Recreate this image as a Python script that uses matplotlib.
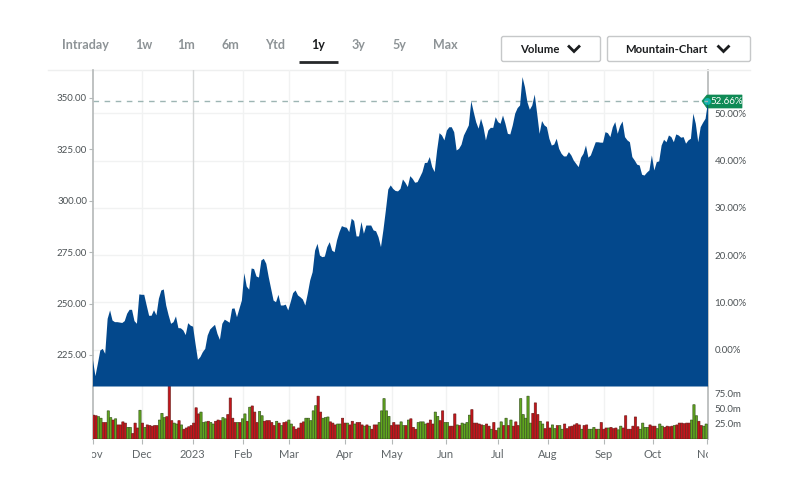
import matplotlib
matplotlib.use('Agg')
import matplotlib.pyplot as plt
import numpy as np
from matplotlib.patches import FancyBboxPatch, Polygon
from matplotlib.transforms import Bbox

plt.rcParams['font.family'] = ['Lato', 'DejaVu Sans']

# 日足の終値 (1y)
price = [
    222.6, 214.9, 221, 227.4, 228.2, 225.8, 242.8, 246.9, 242, 241.2,
    241.2, 241, 240.8, 241.7, 245.3, 247.2, 247.2, 241.7, 240.4, 254.7,
    254.5, 254.5, 249.3, 244.3, 244.3, 247, 244.5, 252.6, 256.6, 257.1,
    249.3, 244.5, 240.4, 241.2, 244, 238.3, 238.2, 237.2, 234.9, 240.7,
    239.5, 239, 230.7, 222.9, 224.2, 226.6, 228.2, 234.7, 237.6, 238.8,
    239.9, 235.5, 232.6, 240.4, 242.4, 241.7, 240.9, 247.7, 247.9, 243.6,
    247.7, 251.7, 265, 258.5, 257, 267.3, 267, 263.4, 262.9, 271.2,
    272, 269.6, 263.1, 257.4, 251.7, 250.9, 254.5, 249.3, 249.3, 249.7,
    246.9, 250.9, 255.3, 256.6, 254.2, 253.3, 252.2, 249.3, 255, 261.5,
    265.5, 276, 279.3, 273.6, 272.8, 273.1, 277.7, 280.1, 276, 275.2,
    281, 285, 287.9, 287.4, 287.1, 285, 291.5, 290.4, 282.9, 282.9,
    289.9, 284.2, 288.2, 288.2, 288.2, 285.8, 285.4, 282.5, 277.7, 286,
    295.5, 305.7, 307.7, 306, 305, 304.8, 306, 310.6, 309, 306.9,
    312.2, 310.9, 309, 309.3, 311.7, 314.2, 318.6, 318.7, 321.5, 316.6,
    314.2, 324.7, 333.1, 332, 329.6, 334.4, 336, 336, 333.6, 324.7,
    325.5, 327.5, 332, 334.4, 336.9, 348.7, 343.4, 338.5, 335.3, 340.1,
    336, 329.6, 334.4, 335.7, 335.7, 340.9, 338.5, 337.7, 341.7, 337.7,
    332.8, 332.5, 336.9, 342.6, 345.3, 346.6, 360.4, 355.5, 348.2, 344.5,
    346.6, 351.9, 342.6, 332.8, 339, 336.9, 336, 330.4, 327.1, 327.6,
    330.4, 325.5, 323.1, 321.8, 321.8, 323.9, 322.3, 319.8, 318.2, 316.6,
    321.2, 323.1, 327.1, 321.2, 322.3, 325.5, 328.7, 328.7, 328.5, 328.5,
    333.6, 333.1, 331.2, 336, 338.5, 332.8, 336.6, 338.8, 331.2, 329.6,
    328.7, 321.5, 319.8, 317.8, 317.4, 312.9, 312.5, 313.9, 315, 322.3,
    315, 319, 319.4, 327.1, 329.9, 328.7, 332, 331.2, 328.7, 332.5,
    332, 330.9, 331.2, 328, 329.6, 330.4, 342.6, 337.7, 328.7, 336,
    338.2, 340.1, 348.2,
]

# 出来高 (百万株)
volume = [
    39, 38, 36.5, 34, 27, 27, 46, 35, 31, 33,
    23, 23, 28, 26, 19, 19, 9, 26, 18, 47,
    26, 19, 23, 22, 21, 22, 22, 31, 42, 35,
    36.5, 87, 30, 26, 24.5, 30, 23, 16, 18, 20,
    22, 26, 51, 41, 44, 27, 28, 29, 27, 24.5,
    29, 31, 30, 35, 33, 40, 67, 34, 27, 27,
    27, 33, 41, 29, 52, 54, 44, 27, 45, 38,
    29, 30, 30, 27, 22, 29, 26, 22, 27, 28,
    31, 24.5, 20, 16, 18, 26, 28, 34, 34, 30,
    46, 54.5, 70, 44, 34, 35, 36, 28, 26, 23,
    24.5, 24.5, 34, 26, 26, 23, 29, 24.5, 27, 27,
    23, 21, 23, 21, 16, 23, 23, 27, 46, 66,
    46, 37, 22, 27, 23, 23, 28, 22, 22, 31,
    33, 19, 16, 27, 28, 28, 24.5, 26, 31, 24.5,
    44, 37, 30, 46, 27, 27, 21, 21, 41, 23,
    22, 26, 24.5, 27, 39, 48, 26, 26, 24.5, 23,
    22, 24.5, 21, 16, 27, 14, 18, 28, 22, 34,
    22, 31, 21, 28, 22, 66, 40, 34, 70, 26,
    42, 59, 40, 29, 24.5, 17, 28, 18, 23, 17,
    22, 22, 16, 24.5, 17, 20, 21, 23, 25, 23,
    16, 22, 23, 16, 16, 19, 16, 16, 27, 16,
    18, 18, 19, 17, 18, 15, 21, 18, 38, 16,
    16, 21, 36, 20, 16, 26, 19, 19, 23, 21,
    21, 17, 24.5, 21, 19, 21, 20, 21, 22, 23,
    26, 26, 25, 26, 26, 31, 56, 38, 29, 22,
    21, 24.5,
]

# 前日比 r: 下落 / g: 上昇
volume_dir = (
    'rrggrrggrg' 'rrrrggrrrg' 'rgrrrrrggg' 'rrrggrgrrr' 'rrrrgggrgg'
    'rrrggrrrrg' 'rggrgrrrgg' 'rrrrrgrgrr' 'ggrrrrrggg' 'ggrrgggrrr'
    'ggrrgrrgrr' 'rgrgrrrggg' 'ggrrrrggrg' 'rrrggggrrr' 'ggrrggrrrg'
    'rggggrrrrr' 'grrgrrggrg' 'rgrrrggggg' 'rrrggrrrgg' 'rggrrrrrrr'
    'grrgggrgrr' 'rgrrrggrrr' 'rrrrggggrr' 'rgggrrrrgr' 'rrrrrgggrr'
    'gg'
)

price_ticks = [225, 250, 275, 300, 325, 350]
percent_ticks = [0, 10, 20, 30, 40, 50]
volume_ticks = [25, 50, 75]
month_labels = ['Nov', 'Dec', '2023', 'Feb', 'Mar', 'Apr', 'May', 'Jun', 'Jul', 'Aug', 'Sep', 'Oct', 'Nov']
month_pos = [0, 20.3, 41, 61.7, 80.6, 103.4, 122.6, 144.8, 166, 186.6, 209.6, 229.6, 252]
range_tabs = ['Intraday', '1w', '1m', '6m', 'Ytd', '1y', '3y', '5y', 'Max']
last_price = 348.5
last_change = '52.66%'

W, H = 800, 484
LEFT, RIGHT = 92.5, 707.5
TOP, MID, BOTTOM = 70, 386, 439
AREA = '#03488c'
GRID = '#f1f2f2'
AXIS = '#b4b8b8'
TEXT = '#4d5356'


def px_axes(fig, left, top, right, bottom):
    return fig.add_axes([left / W, 1 - bottom / H, (right - left) / W, (bottom - top) / H])


fig = plt.figure(figsize=(W / 100, H / 100), dpi=100)

# 価格パネル
ax = px_axes(fig, LEFT, TOP, RIGHT, MID)
ax.set_xlim(0, 252)
ax.set_ylim(209.9, 363.6)
for pos in month_pos[1:-1]:
    ax.axvline(pos, color='#d5d7d7' if pos == 41 else GRID, lw=1, zorder=1)
ax.axhline(last_price, color='#9db5b3', lw=1, dashes=(4, 4), zorder=2)
ax.fill_between(np.arange(len(price)), price, 209.9, color=AREA, lw=0, zorder=3)
ax.set_yticks(price_ticks, [f'{v:.2f}' for v in price_ticks])
ax.set_xticks([])
ax.tick_params(axis='y', length=3, width=0.8, color=AXIS, labelsize=7, labelcolor=TEXT, pad=1)
for side in ['top', 'right', 'bottom']:
    ax.spines[side].set_visible(False)
ax.spines['left'].set_color(AXIS)
ax.spines['left'].set_linewidth(1.2)

# 騰落率の右軸
ax_pct = ax.twinx()
ax_pct.set_ylim(-7.73, 59.2)
ax_pct.set_yticks(percent_ticks, [f'{v:.2f}%' for v in percent_ticks])
ax_pct.tick_params(axis='y', length=0, labelsize=7, labelcolor=TEXT, pad=5)
ax_pct.grid(axis='y', color=GRID, lw=1)
ax_pct.set_axisbelow(True)
ax_pct.patch.set_visible(False)
ax.set_zorder(ax_pct.get_zorder() + 1)
ax.patch.set_visible(False)
for side in ['top', 'left', 'bottom']:
    ax_pct.spines[side].set_visible(False)
ax_pct.spines['right'].set_color(AXIS)
ax_pct.spines['right'].set_linewidth(1.2)

# 出来高パネル
ax_vol = px_axes(fig, LEFT, MID, RIGHT, BOTTOM)
ax_vol.set_xlim(0, 252)
ax_vol.set_ylim(0, 86.6)
for pos in month_pos[1:-1]:
    ax_vol.axvline(pos, color='#d5d7d7' if pos == 41 else GRID, lw=1, zorder=1)
bar_colors = ['#c5141b' if d == 'r' else '#62a81f' for d in volume_dir]
edge_colors = ['#6a1a16' if d == 'r' else '#33501a' for d in volume_dir]
bars = ax_vol.bar(np.arange(len(volume)), volume, width=0.92, align='edge', color=bar_colors,
                  edgecolor=edge_colors, linewidth=0.45, zorder=3)
for bar in bars:
    bar.set_snap(False)
ax_vol.yaxis.tick_right()
ax_vol.set_yticks(volume_ticks, [f'{v:.1f}m' for v in volume_ticks])
ax_vol.tick_params(axis='y', length=0, labelsize=7, labelcolor=TEXT, pad=5)
ax_vol.set_xticks(month_pos, month_labels)
ax_vol.tick_params(axis='x', length=3.5, width=0.8, color=AXIS, labelsize=8, labelcolor='#5f6568', pad=4)
# 両端の "Nov" はパネル幅で切れる
clip = Bbox([[LEFT - 1, 0], [RIGHT, H]])
for label in ax_vol.get_xticklabels():
    label.set_clip_on(True)
    label.set_clip_box(clip)
for side in ['top', 'bottom']:
    ax_vol.spines[side].set_visible(False)
for side in ['left', 'right']:
    ax_vol.spines[side].set_color(AXIS)
    ax_vol.spines[side].set_linewidth(1.2)

# タブ・ボタン・ラベルはピクセル座標のオーバーレイに描く
ui = fig.add_axes([0, 0, 1, 1])
ui.set_xlim(0, W)
ui.set_ylim(H, 0)
ui.axis('off')
ui.patch.set_visible(False)
ui.plot([48, 750], [TOP, TOP], color='#eeefef', lw=1)

tab_x = [85, 143.5, 186, 230.5, 275.5, 318.5, 358.5, 399, 445]
for name, x in zip(range_tabs, tab_x):
    active = name == '1y'
    ui.text(x, 45, name, ha='center', va='center', fontsize=9, fontweight='bold',
            color='#1b1d1f' if active else '#8d9396')
ui.plot([299, 338], [61.8, 61.8], color='#26282a', lw=2, solid_capstyle='butt')


def dropdown(x0, x1, label, text_x, chevron_x):
    box = FancyBboxPatch((x0, 36.5), x1 - x0, 25, boxstyle='round,pad=0,rounding_size=2',
                         fc='white', ec='#c6c8c9', lw=1)
    ui.add_patch(box)
    ui.text(text_x, 49.5, label, ha='center', va='center', fontsize=8.2, fontweight='bold', color='#1b1d1f')
    ui.plot([chevron_x - 5, chevron_x, chevron_x + 5], [46.5, 51.5, 46.5], color='#1b1d1f', lw=2,
            solid_joinstyle='miter')


dropdown(501.5, 600.5, 'Volume', 540, 574)
dropdown(607.5, 750.5, 'Mountain-Chart', 666.5, 723.5)

# 現在値ラベル
ui.add_patch(Polygon([(702, 101), (707, 95), (742, 95), (742, 108), (707, 108)], closed=True,
                     fc='#0f8a55', ec='#0f8a55', lw=0.5, zorder=5))
ui.plot([707], [101], 'o', ms=4, color='#12b5b0', zorder=6)
ui.text(710, 101.5, last_change, ha='left', va='center', fontsize=7, color='white', zorder=6)

fig.savefig('out.png', dpi=100)
plt.close(fig)
